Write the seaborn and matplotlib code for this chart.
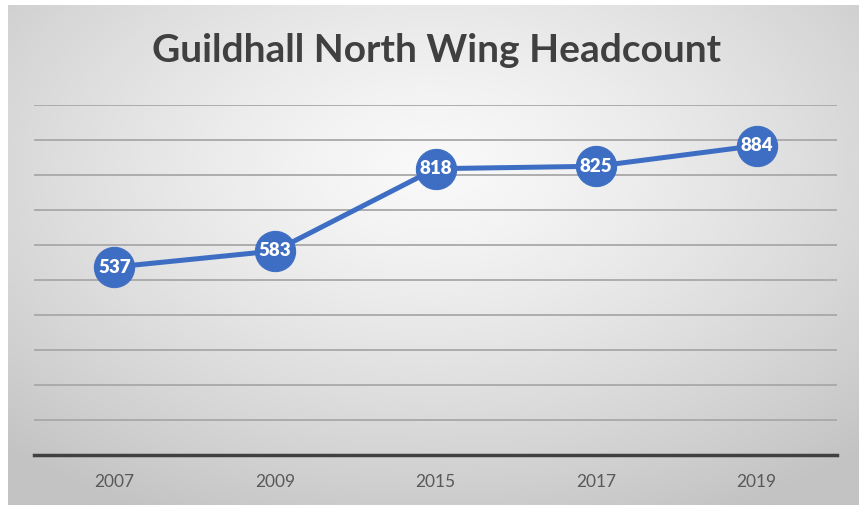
import numpy as np
import pandas as pd
import matplotlib
matplotlib.use("Agg")
import matplotlib.pyplot as plt
import seaborn as sns

years = ["2007", "2009", "2015", "2017", "2019"]
headcount = [537, 583, 818, 825, 884]
title = "Guildhall North Wing Headcount"

sns.set_theme(style="white")
plt.rcParams['font.family'] = ['Lato', 'DejaVu Sans']

W, H = 859, 507
fig = plt.figure(figsize=(W / 100, H / 100), dpi=100)
fig.patch.set_facecolor("white")

# gradient background panel
bg = fig.add_axes([8 / W, 1 - 505 / H, (W - 8) / W, 500 / H], zorder=0)
gx, gy = np.meshgrid(np.linspace(-1, 1, 400), np.linspace(-1, 1, 240))
r = np.sqrt((gx * 0.95) ** 2 + ((gy + 0.35) * 0.9) ** 2)
val = 0.975 - 0.21 * np.clip(r / 1.4, 0, 1) ** 1.3
bg.imshow(val, cmap="gray", vmin=0, vmax=1, aspect="auto",
          extent=[0, 1, 0, 1], origin="upper", interpolation="bicubic")
bg.set_axis_off()

df = pd.DataFrame({"year": years, "headcount": headcount})

left, right = 34, 837
top, bottom = 105, 455
ax = fig.add_axes([left / W, 1 - bottom / H, (right - left) / W, (bottom - top) / H], zorder=1)
ax.patch.set_alpha(0)

x = np.arange(len(years))
sns.lineplot(data=df.assign(pos=x), x="pos", y="headcount", ax=ax,
             color="#3d6ec4", linewidth=3.6, marker="o", markersize=29,
             markeredgecolor="#3d6ec4", markerfacecolor="#3d6ec4", zorder=3)

for xi, v in zip(x, headcount):
    ax.text(xi, v, str(v), color="white", fontsize=13.5, fontweight="heavy",
            ha="center", va="center", zorder=4)

ax.set_xlim(-0.5, len(years) - 0.5)
ax.set_ylim(0, 1000)
ax.set_yticks(np.arange(0, 1001, 100))
ax.yaxis.grid(True, color="#a8a8a8", linewidth=1.3)
ax.xaxis.grid(False)
ax.set_yticklabels([])
ax.tick_params(axis="y", length=0)
ax.set_xticks(x)
ax.set_xticklabels(years, fontsize=12.5, color="#595959")
ax.tick_params(axis="x", length=0, pad=14)
ax.set_xlabel("")
ax.set_ylabel("")
for s in ["left", "right", "top"]:
    ax.spines[s].set_visible(False)
ax.spines["bottom"].set_color("#404040")
ax.spines["bottom"].set_linewidth(2.5)
ax.set_axisbelow(True)

fig.text(437 / W, 1 - 51 / H, title, ha="center", va="center",
         fontsize=28, fontweight="bold", color="#404040")

fig.savefig("out.png", dpi=100)
